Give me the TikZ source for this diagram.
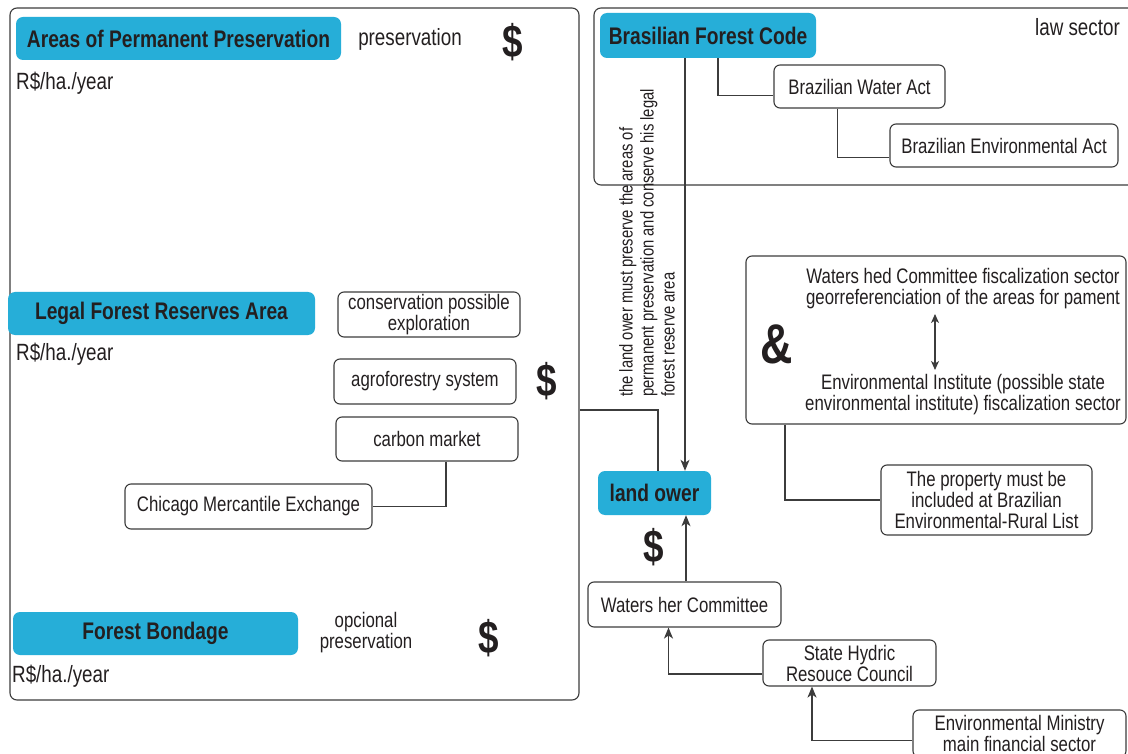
\documentclass[tikz,border=0pt]{standalone}
\usepackage{fontspec}
\setmainfont{Liberation Sans}[FakeStretch=0.8]
\usetikzlibrary{arrows.meta,calc}
\definecolor{cblue}{RGB}{38,174,216}
\definecolor{txt}{RGB}{35,31,32}
\definecolor{ln}{RGB}{60,60,60}
\tikzset{
  bluebox/.style={fill=cblue, rounded corners=7pt, text=txt, inner sep=0pt, font=\bfseries\fontsize{24}{26}\selectfont},
  wbox/.style={draw=ln, fill=white, line width=1.1pt, rounded corners=6pt, text=txt, inner sep=0pt, align=center, font=\fontsize{21}{21}\selectfont},
  frame/.style={draw=ln, line width=1.1pt, rounded corners=7pt, inner sep=0pt},
  plain/.style={text=txt, inner sep=0pt, align=center, font=\fontsize{21}{21}\selectfont},
  big/.style={text=txt, inner sep=0pt, align=center, font=\fontsize{23.5}{24}\selectfont},
  dollar/.style={text=txt, inner sep=0pt, font=\bfseries\fontsize{46}{46}\selectfont},
  conn/.style={draw=ln, line width=1.1pt},
  arr/.style={draw=ln, line width=1.1pt, -{Stealth[length=11pt,width=9pt,inset=3pt]}},
  darr/.style={draw=ln, line width=1.1pt, {Stealth[length=9pt,width=8pt,inset=2.5pt]}-{Stealth[length=9pt,width=8pt,inset=2.5pt]}}
}
\begin{document}
\begin{tikzpicture}[x=1pt,y=-1pt]
\useasboundingbox[fill=white] (0,0) rectangle (1128,754);
% frames
\node[frame, minimum width=569, minimum height=692] (leftbox) at (294.5,354) {};
\node[frame, minimum width=546, minimum height=177] (lawbox) at (867,96.5) {};
\node[wbox, minimum width=380, minimum height=168] (fisc) at (936,340) {};
% blue nodes
\node[bluebox, minimum width=325, minimum height=43] (app) at (178.5,38.5) {Areas of Permanent Preservation};
\node[bluebox, minimum width=307, minimum height=43] (lfr) at (161.5,313.5) {Legal Forest Reserves Area};
\node[bluebox, minimum width=285, minimum height=43] (fb) at (155.5,633.5) {Forest Bondage};
\node[bluebox, minimum width=216, minimum height=45] (bfc) at (708,35.5) {Brasilian Forest Code};
\node[bluebox, minimum width=113, minimum height=44] (lo) at (654.5,493) {land ower};
% plain texts
\node[big] (pres) at (410,39) {preservation};
\node[dollar] (d1) at (513,42) {\$};
\node[big, anchor=west] (r1) at (16,83) {R\$/ha./year};
\node[big, anchor=west] (r2) at (16,354) {R\$/ha./year};
\node[big, anchor=west] (r3) at (12,676) {R\$/ha./year};
\node[plain] (opc) at (366,633) {opcional\\preservation};
\node[dollar] (d2) at (489,638) {\$};
\node[dollar] (d3) at (547,381) {\$};
\node[dollar] (d4) at (654,547) {\$};
\node[big, anchor=east] (law) at (1120,27) {law sector};
\node[text=txt, inner sep=0pt, font=\bfseries\fontsize{56}{56}\selectfont] (amp) at (777,344) {\&};
\node[rotate=90, anchor=west, align=left, text=txt, inner sep=0pt, font=\fontsize{18.5}{21}\selectfont] (must) at (647,397) {the land ower must preserve the areas of\\permanent preservation and conserve his legal\\forest reserve area};
% white boxes
\node[wbox, minimum width=182, minimum height=45] (cons) at (429,314.5) {conservation possible\\exploration};
\node[wbox, minimum width=182, minimum height=45] (agro) at (425,381.5) {agroforestry system};
\node[wbox, minimum width=182, minimum height=44] (carb) at (427,439) {carbon market};
\node[wbox, minimum width=247, minimum height=45] (chic) at (248.5,506.5) {Chicago Mercantile Exchange};
\node[wbox, minimum width=171, minimum height=43] (bwa) at (859.5,86.5) {Brazilian Water Act};
\node[wbox, minimum width=228, minimum height=43] (bea) at (1004,145.5) {Brazilian Environmental Act};
\node[plain] (fisc1) at (963,289) {Waters hed Committee fiscalization sector\\georreferenciation of the areas for pament};
\node[plain] (fisc2) at (963,395) {Environmental Institute (possible state\\environmental institute) fiscalization sector};
\node[wbox, minimum width=211, minimum height=70] (prop) at (986.5,500) {The property must be\\included at Brazilian\\Environmental-Rural List};
\node[wbox, minimum width=193, minimum height=45] (whc) at (684.5,604.5) {Waters her Committee};
\node[wbox, minimum width=173, minimum height=46] (shc) at (849.5,663) {State Hydric\\Resouce Council};
\node[wbox, minimum width=213, minimum height=47] (emin) at (1019.5,733.5) {Environmental Ministry\\main financial sector};
% helper coordinates
\coordinate (xv) at (685,0);
\coordinate (j1) at (658,410);
\coordinate (xw) at (686,0);
\coordinate (xs) at (812,0);
\coordinate (xf) at (785,0);
\coordinate (da1) at (935,314);
\coordinate (da2) at (935,370);
% connectors
\draw[arr] (bfc.south -| xv) -- (lo.north -| xv);
\draw[conn] ($(bfc.south)+(10,0)$) |- ($(bwa.west)+(0,9)$);
\draw[conn] ($(bwa.south)+(-22,0)$) |- ($(bea.west)+(0,12)$);
\draw[conn] (leftbox.east |- j1) -| (lo.north -| j1);
\draw[arr] (whc.north -| xw) -- (lo.south -| xw);
\draw[arr] ($(shc.west)+(0,11)$) -| ($(whc.south)+(-16,0)$);
\draw[arr] ($(emin.west)+(0,7)$) -| (shc.south -| xs);
\draw[conn] ($(carb.south)+(19,0)$) |- (chic.east);
\draw[conn] (fisc.south -| xf) |- (prop.west);
\draw[darr] (da1) -- (da2);
\end{tikzpicture}
\end{document}
